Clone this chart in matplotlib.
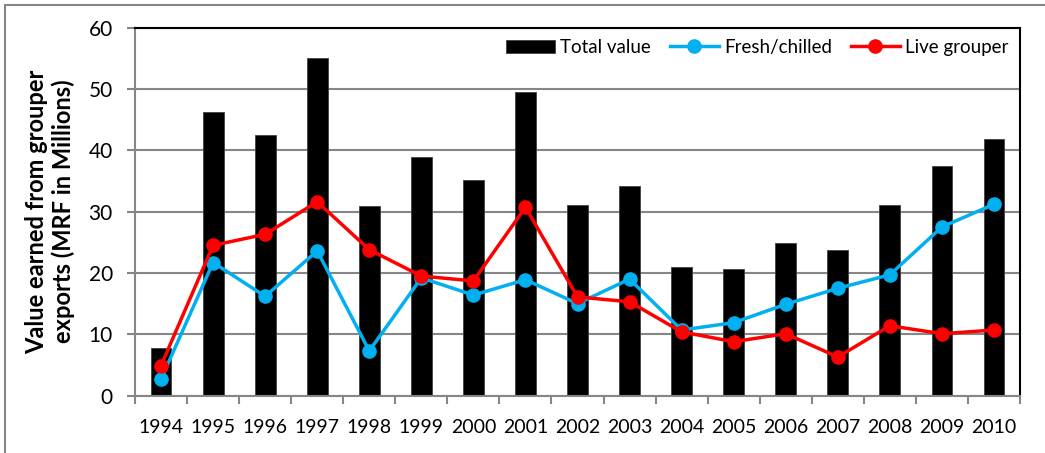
import numpy as np
import matplotlib
matplotlib.use("Agg")
import matplotlib.pyplot as plt
from matplotlib.patches import Rectangle

plt.rcParams["font.family"] = ["Lato", "DejaVu Sans"]

years = ["1994", "1995", "1996", "1997", "1998", "1999", "2000", "2001", "2002",
         "2003", "2004", "2005", "2006", "2007", "2008", "2009", "2010"]
total_value = [7.7, 46.2, 42.5, 55.1, 30.9, 38.9, 35.1, 49.5, 31.0,
               34.2, 20.9, 20.6, 24.9, 23.7, 31.0, 37.5, 41.8]
fresh_chilled = [2.7, 21.7, 16.2, 23.6, 7.3, 19.2, 16.4, 18.9, 15.0,
                 19.0, 10.7, 11.9, 14.9, 17.5, 19.7, 27.5, 31.2]
live_grouper = [4.9, 24.5, 26.3, 31.6, 23.8, 19.5, 18.7, 30.7, 16.1,
                15.3, 10.4, 8.8, 10.1, 6.3, 11.4, 10.1, 10.7]

x = np.arange(len(years))
grey = "#868686"

fig = plt.figure(figsize=(10.45, 4.53), dpi=100)
# outer chart border (right and bottom edges fall off the picture)
fig.patches.append(Rectangle((5 / 1045, -0.05), 1.1, 1 - 5 / 453 + 0.05,
                             transform=fig.transFigure, fill=False,
                             edgecolor=grey, linewidth=1.5))

ax = fig.add_axes([135 / 1045, 1 - 395.7 / 453, (1020 - 135) / 1045, (395.7 - 27.5) / 453])

bars = ax.bar(x, total_value, width=0.4, color="black", edgecolor="#404040",
              linewidth=0.6, label="Total value", zorder=2)
l1, = ax.plot(x, fresh_chilled, color="#00B0F0", linewidth=2.5, marker="o",
              markersize=9.5, label="Fresh/chilled", zorder=3)
l2, = ax.plot(x, live_grouper, color="#FF0000", linewidth=2.5, marker="o",
              markersize=9.5, label="Live grouper", zorder=4)

ax.set_xlim(-0.5, len(years) - 0.5)
ax.set_ylim(0, 60)
ax.set_yticks(range(0, 61, 10))
ax.yaxis.grid(True, color=grey, linewidth=1.5, zorder=0)
ax.set_axisbelow(True)

ax.set_xticks(x)
ax.set_xticklabels(years)
ax.set_xticks(np.arange(-0.5, len(years), 1), minor=True)
ax.tick_params(axis="x", which="major", length=0, pad=17, labelsize=14)
ax.tick_params(axis="x", which="minor", length=6, width=1.5, color=grey)
ax.tick_params(axis="y", length=6, width=1.5, color=grey, pad=10, labelsize=15)

ax.spines["left"].set_color(grey)
ax.spines["bottom"].set_color(grey)
ax.spines["left"].set_linewidth(1.5)
ax.spines["bottom"].set_linewidth(1.5)
ax.spines["top"].set_color("black")
ax.spines["right"].set_color("black")
ax.spines["top"].set_linewidth(1.5)
ax.spines["right"].set_linewidth(1.5)

ax.set_ylabel("Value earned from grouper\nexports (MRF in Millions)",
              fontsize=17, fontweight="bold", linespacing=1.15)
ax.yaxis.set_label_coords(-0.068, 0.5)

ax.legend(handles=[bars, l1, l2], loc="upper right", ncol=3, frameon=False,
          fontsize=13.5, handlelength=2.6, columnspacing=1.0, handletextpad=0.3,
          bbox_to_anchor=(1.0, 1.0), borderaxespad=0.2)

fig.savefig("out.png", dpi=100)
